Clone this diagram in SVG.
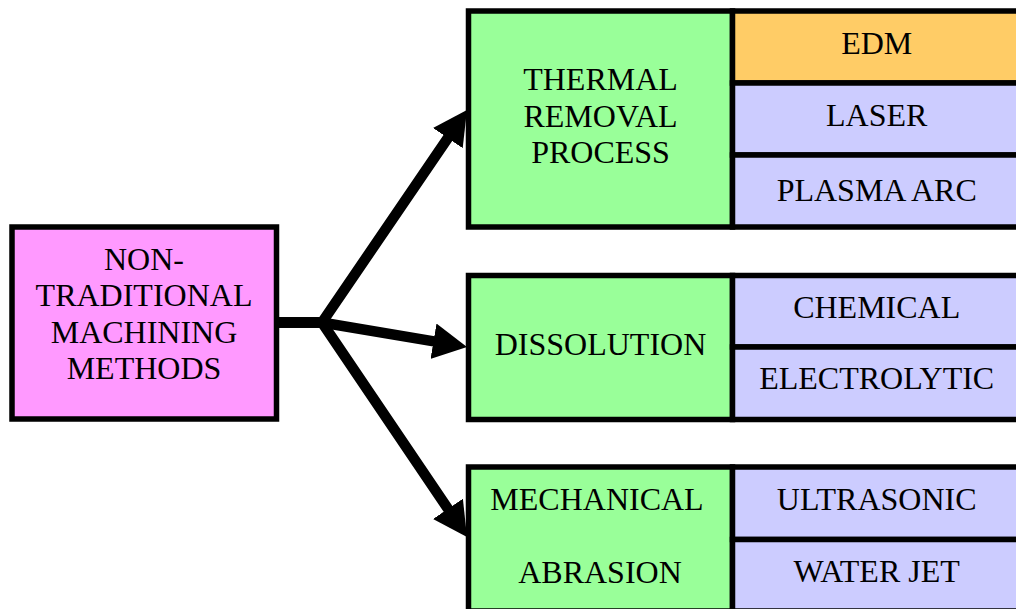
<svg xmlns="http://www.w3.org/2000/svg" width="1016" height="609" viewBox="0 0 1016 609">
  <defs>
    <style>
      .box { stroke: #000; stroke-width: 5.5; }
      .pink { fill: #FF99FF; }
      .green { fill: #99FF99; }
      .orange { fill: #FFCC66; }
      .lav { fill: #CCCCFF; }
      text { font-family: "Liberation Serif", "Times New Roman", serif; font-size: 32px; fill: #000; text-anchor: middle; }
      .conn { fill: none; stroke: #000; stroke-width: 10.5; stroke-linejoin: miter; stroke-linecap: butt; }
    </style>
    <marker id="arrow" markerUnits="userSpaceOnUse" markerWidth="34" markerHeight="36" viewBox="0 0 34 36" refX="14" refY="18" orient="auto">
      <path d="M0,0 L34,18 L0,36 z" fill="#000"/>
    </marker>
  </defs>
  <rect width="1016" height="609" fill="#fff"/>

  <g id="connectors">
    <path class="conn" d="M276,322.5 L322,322.5 L455.7,126.5" marker-end="url(#arrow)"/>
    <path class="conn" d="M276,322.5 L322,322.5 L447.3,343.6" marker-end="url(#arrow)"/>
    <path class="conn" d="M276,322.5 L322,322.5 L455.8,520.4" marker-end="url(#arrow)"/>
  </g>

  <g id="root">
    <rect class="box pink" x="12" y="227" width="264.5" height="192"/>
    <text x="144" y="270">NON-</text>
    <text x="144" y="306">TRADITIONAL</text>
    <text x="144" y="342.5">MACHINING</text>
    <text x="144" y="379">METHODS</text>
  </g>

  <g id="thermal">
    <rect class="box green" x="468.5" y="11" width="264" height="216"/>
    <text x="600.5" y="90">THERMAL</text>
    <text x="600.5" y="126.7">REMOVAL</text>
    <text x="600.5" y="163.3">PROCESS</text>
  </g>
  <g id="edm">
    <rect class="box orange" x="732.5" y="11" width="288.5" height="72"/>
    <text x="876.7" y="54">EDM</text>
  </g>
  <g id="laser">
    <rect class="box lav" x="732.5" y="83" width="288.5" height="72"/>
    <text x="876.7" y="126">LASER</text>
  </g>
  <g id="plasma">
    <rect class="box lav" x="732.5" y="155" width="288.5" height="72"/>
    <text x="876.7" y="201">PLASMA ARC</text>
  </g>

  <g id="dissolution">
    <rect class="box green" x="468.5" y="275.5" width="264" height="144"/>
    <text x="600.5" y="355">DISSOLUTION</text>
  </g>
  <g id="chemical">
    <rect class="box lav" x="732.5" y="275.5" width="288.5" height="71.5"/>
    <text x="876.7" y="318.3">CHEMICAL</text>
  </g>
  <g id="electrolytic">
    <rect class="box lav" x="732.5" y="347" width="288.5" height="72.5"/>
    <text x="876.7" y="389.3">ELECTROLYTIC</text>
  </g>

  <g id="mechanical">
    <rect class="box green" x="468.5" y="467" width="264" height="144"/>
    <text x="597" y="510">MECHANICAL</text>
    <text x="600" y="583.3">ABRASION</text>
  </g>
  <g id="ultrasonic">
    <rect class="box lav" x="732.5" y="467" width="288.5" height="72.5"/>
    <text x="876.7" y="510">ULTRASONIC</text>
  </g>
  <g id="waterjet">
    <rect class="box lav" x="732.5" y="539.5" width="288.5" height="71.5"/>
    <text x="876.7" y="581.7">WATER JET</text>
  </g>
</svg>
